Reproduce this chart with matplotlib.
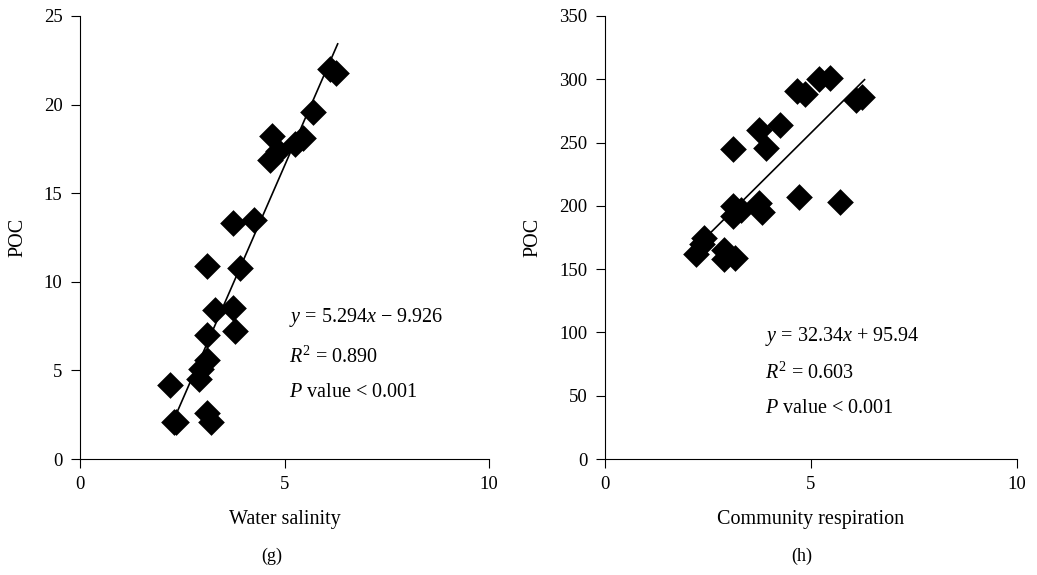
import numpy as np
import matplotlib.pyplot as plt
from matplotlib import rcParams

rcParams['font.family'] = ['Liberation Serif', 'DejaVu Serif']
rcParams['mathtext.fontset'] = 'custom'
rcParams['mathtext.rm'] = 'Liberation Serif'
rcParams['mathtext.it'] = 'Liberation Serif:italic'

# data
x_vals = [2.2, 2.3, 2.35, 2.9, 2.95, 3.1, 3.1, 3.1, 3.1, 3.2, 3.3, 3.75,
          3.75, 3.8, 3.9, 4.25, 4.65, 4.7, 4.85, 5.25, 5.45, 5.7, 6.1, 6.25]
salinity_poc = [4.2, 2.1, 2.1, 4.5, 5.1, 5.6, 7.0, 10.9, 2.6, 2.1, 8.4, 13.3,
                8.5, 7.2, 10.8, 13.5, 16.9, 18.2, 17.4, 17.8, 18.1, 19.6, 22.0, 21.8]

x_resp = [2.2, 2.35, 2.4, 2.9, 2.9, 3.1, 3.1, 3.1, 3.15, 3.3, 3.75, 3.75,
          3.8, 3.9, 4.25, 4.65, 4.7, 4.85, 5.2, 5.45, 5.7, 6.1, 6.25]
resp_poc = [162, 170, 175, 165, 158, 245, 200, 192, 159, 197, 260, 202,
            195, 246, 264, 291, 207, 288, 300, 301, 203, 284, 286]

fit_g = (5.294, -9.926)
fit_h = (32.34, 95.94)

fig = plt.figure(figsize=(10.37, 5.75), dpi=100)
ax1 = fig.add_axes([0.0771, 0.2017, 0.3945, 0.7705])
ax2 = fig.add_axes([0.5834, 0.2017, 0.3973, 0.7705])

TXT = 14.5


def style(ax, ymax, ystep):
    ax.set_xlim(0, 10)
    ax.set_ylim(0, ymax)
    ax.set_xticks([0, 5, 10])
    ax.set_yticks(np.arange(0, ymax + 1, ystep))
    for s in ['top', 'right']:
        ax.spines[s].set_visible(False)
    ax.tick_params(direction='out', length=6.5, labelsize=13.5, pad=6)
    ax.set_ylabel('POC', fontsize=TXT, labelpad=12)


# (g) water salinity
style(ax1, 25, 5)
ax1.scatter(x_vals, salinity_poc, marker='D', s=185, color='black', zorder=3,
            linewidths=0)
xl = np.array([2.38, 6.3])
ax1.plot(xl, fit_g[0] * xl + fit_g[1], color='black', lw=1.2)
ax1.set_xlabel('Water salinity', fontsize=TXT, labelpad=12)
ax1.text(5.12, 7.96, r'$y$ = 5.294$x$ − 9.926', fontsize=TXT, va='center')
ax1.text(5.12, 5.76, r'$R^2$ = 0.890', fontsize=TXT, va='center')
ax1.text(5.12, 3.78, r'$P$ value < 0.001', fontsize=TXT, va='center')
fig.text(0.2617, 0.024, '(g)', ha='center', fontsize=13)

# (h) community respiration
style(ax2, 350, 50)
ax2.scatter(x_resp, resp_poc, marker='D', s=185, color='black', zorder=3,
            linewidths=0)
xl = np.array([2.2, 6.3])
ax2.plot(xl, fit_h[0] * xl + fit_h[1], color='black', lw=1.2)
ax2.set_xlabel('Community respiration', fontsize=TXT, labelpad=12)
ax2.text(3.88, 96.4, r'$y$ = 32.34$x$ + 95.94', fontsize=TXT, va='center')
ax2.text(3.88, 67.9, r'$R^2$ = 0.603', fontsize=TXT, va='center')
ax2.text(3.88, 40.3, r'$P$ value < 0.001', fontsize=TXT, va='center')
fig.text(0.7735, 0.024, '(h)', ha='center', fontsize=13)

fig.savefig('out.png', dpi=100)
